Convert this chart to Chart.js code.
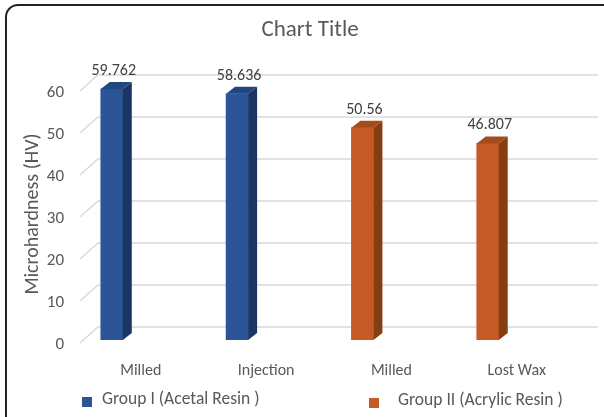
<!DOCTYPE html>
<html>
<head>
<meta charset="utf-8">
<script src="https://cdn.jsdelivr.net/npm/chart.js@4.4.1/dist/chart.umd.min.js"></script>
<style>
    html, body { margin: 0; padding: 0; background: #fff; overflow: hidden; }
    #wrap { position: relative; width: 604px; height: 417px; overflow: hidden; }
    #frame { position: absolute; left: 5px; top: 4px; width: 650px; height: 470px; border: 2px solid #222; border-radius: 13px; pointer-events: none; }
    canvas { position: absolute; left: 0; top: 0; }
</style>
</head>
<body>
<div id="wrap">
    <canvas id="chart" width="604" height="417"></canvas>
    <div id="frame"></div>
</div>
<script>
var categories = ['Milled', 'Injection', 'Milled', 'Lost Wax'];
var seriesNames = ['Group I (Acetal Resin )', 'Group II (Acrylic Resin )'];
var groupOne = [59.762, 58.636, null, null];
var groupTwo = [null, null, 50.56, 46.807];
var yTicks = [0, 10, 20, 30, 40, 50, 60];

var FONT = 'Carlito, Lato, sans-serif';
var TEXT = '#595959';

var faces = [
    { front: '#2b5597', side: '#1b3665', top: '#22477f' },
    { front: '#c55a26', side: '#853d12', top: '#a54a1b' }
];

function toPoints(values) {
    return values.map(function (v, i) {
        return { x: i + 1, y: v };
    });
}

var depthX = 9;
var depthY = 7;
var wallShift = 13;

var gridPlugin = {
    id: 'wallGrid',
    beforeDatasetsDraw: function (chart) {
        var ctx = chart.ctx;
        var y = chart.scales.y;
        var area = chart.chartArea;
        ctx.save();
        ctx.strokeStyle = '#d9d9d9';
        ctx.lineWidth = 1.5;
        yTicks.forEach(function (t) {
            var py = y.getPixelForValue(t);
            ctx.beginPath();
            ctx.moveTo(area.left - 18, py + 3);
            ctx.lineTo(area.left, py - wallShift);
            ctx.lineTo(area.right, py - wallShift);
            ctx.stroke();
        });
        ctx.restore();
    }
};

var solidPlugin = {
    id: 'solidBars',
    afterDatasetsDraw: function (chart) {
        var ctx = chart.ctx;
        ctx.save();
        chart.data.datasets.forEach(function (ds, di) {
            var meta = chart.getDatasetMeta(di);
            meta.data.forEach(function (bar, i) {
                if (ds.data[i].y == null) return;
                var p = bar.getProps(['x', 'y', 'base', 'width'], true);
                var l = p.x - p.width / 2;
                var r = p.x + p.width / 2;
                ctx.fillStyle = faces[di].side;
                ctx.beginPath();
                ctx.moveTo(r, p.y);
                ctx.lineTo(r + depthX, p.y - depthY);
                ctx.lineTo(r + depthX, p.base - depthY);
                ctx.lineTo(r, p.base);
                ctx.closePath();
                ctx.fill();
                ctx.fillStyle = faces[di].top;
                ctx.beginPath();
                ctx.moveTo(l, p.y);
                ctx.lineTo(l + depthX, p.y - depthY);
                ctx.lineTo(r + depthX, p.y - depthY);
                ctx.lineTo(r, p.y);
                ctx.closePath();
                ctx.fill();

                ctx.fillStyle = '#404040';
                ctx.font = '16px ' + FONT;
                ctx.textAlign = 'center';
                ctx.textBaseline = 'middle';
                ctx.fillText(String(ds.data[i].y), p.x + 2, p.y - 18);
            });
        });
        ctx.restore();
    }
};

var titleLegendPlugin = {
    id: 'titleLegend',
    afterDraw: function (chart) {
        var ctx = chart.ctx;
        ctx.save();
        ctx.fillStyle = TEXT;
        ctx.textBaseline = 'middle';
        ctx.textAlign = 'center';
        ctx.font = '23px ' + FONT;
        ctx.fillText('Chart Title', 310, 30);

        var legendPos = [
            { box: 82, text: 102, y: 402 },
            { box: 369, text: 398, y: 403 }
        ];
        ctx.font = '17.5px ' + FONT;
        ctx.textAlign = 'left';
        chart.data.datasets.forEach(function (ds, di) {
            var lp = legendPos[di];
            ctx.fillStyle = ds.backgroundColor;
            ctx.fillRect(lp.box, lp.y - 5, 10, 10);
            ctx.fillStyle = TEXT;
            ctx.fillText(ds.label, lp.text, lp.y - 2);
        });
        ctx.restore();
    }
};

new Chart(document.getElementById('chart'), {
    type: 'bar',
    data: {
        datasets: [{
            label: seriesNames[0],
            data: toPoints(groupOne),
            backgroundColor: faces[0].front
        }, {
            label: seriesNames[1],
            data: toPoints(groupTwo),
            backgroundColor: faces[1].front
        }]
    },
    options: {
        responsive: false,
        animation: false,
        grouped: false,
        barThickness: 22,
        layout: {
            padding: { top: 88, right: 6, bottom: 37, left: 0 }
        },
        plugins: {
            legend: { display: false },
            title: { display: false },
            tooltip: { enabled: false }
        },
        scales: {
            x: {
                type: 'linear',
                offset: false,
                min: 0.89,
                max: 4.88,
                grid: { display: false, drawTicks: false },
                border: { display: false },
                afterBuildTicks: function (scale) {
                    scale.ticks = categories.map(function (c, i) {
                        return { value: i + 1 };
                    });
                },
                afterFit: function (scale) {
                    scale.height = 40;
                },
                ticks: {
                    color: TEXT,
                    font: { family: FONT, size: 16 },
                    padding: 21,
                    labelOffset: 29,
                    maxRotation: 0,
                    autoSkip: false,
                    callback: function (value) {
                        return categories[value - 1];
                    }
                }
            },
            y: {
                min: 0,
                max: 60,
                grid: { display: false, drawTicks: false },
                border: { display: false },
                afterFit: function (scale) {
                    scale.width = 98;
                },
                ticks: {
                    stepSize: 10,
                    color: TEXT,
                    font: { family: FONT, size: 17 },
                    padding: 34,
                    labelOffset: 5
                },
                title: {
                    display: true,
                    text: 'Microhardness (HV)',
                    color: TEXT,
                    font: { family: FONT, size: 20 },
                    padding: { top: 21, bottom: 0 }
                }
            }
        }
    },
    plugins: [gridPlugin, solidPlugin, titleLegendPlugin]
});
</script>
</body>
</html>
